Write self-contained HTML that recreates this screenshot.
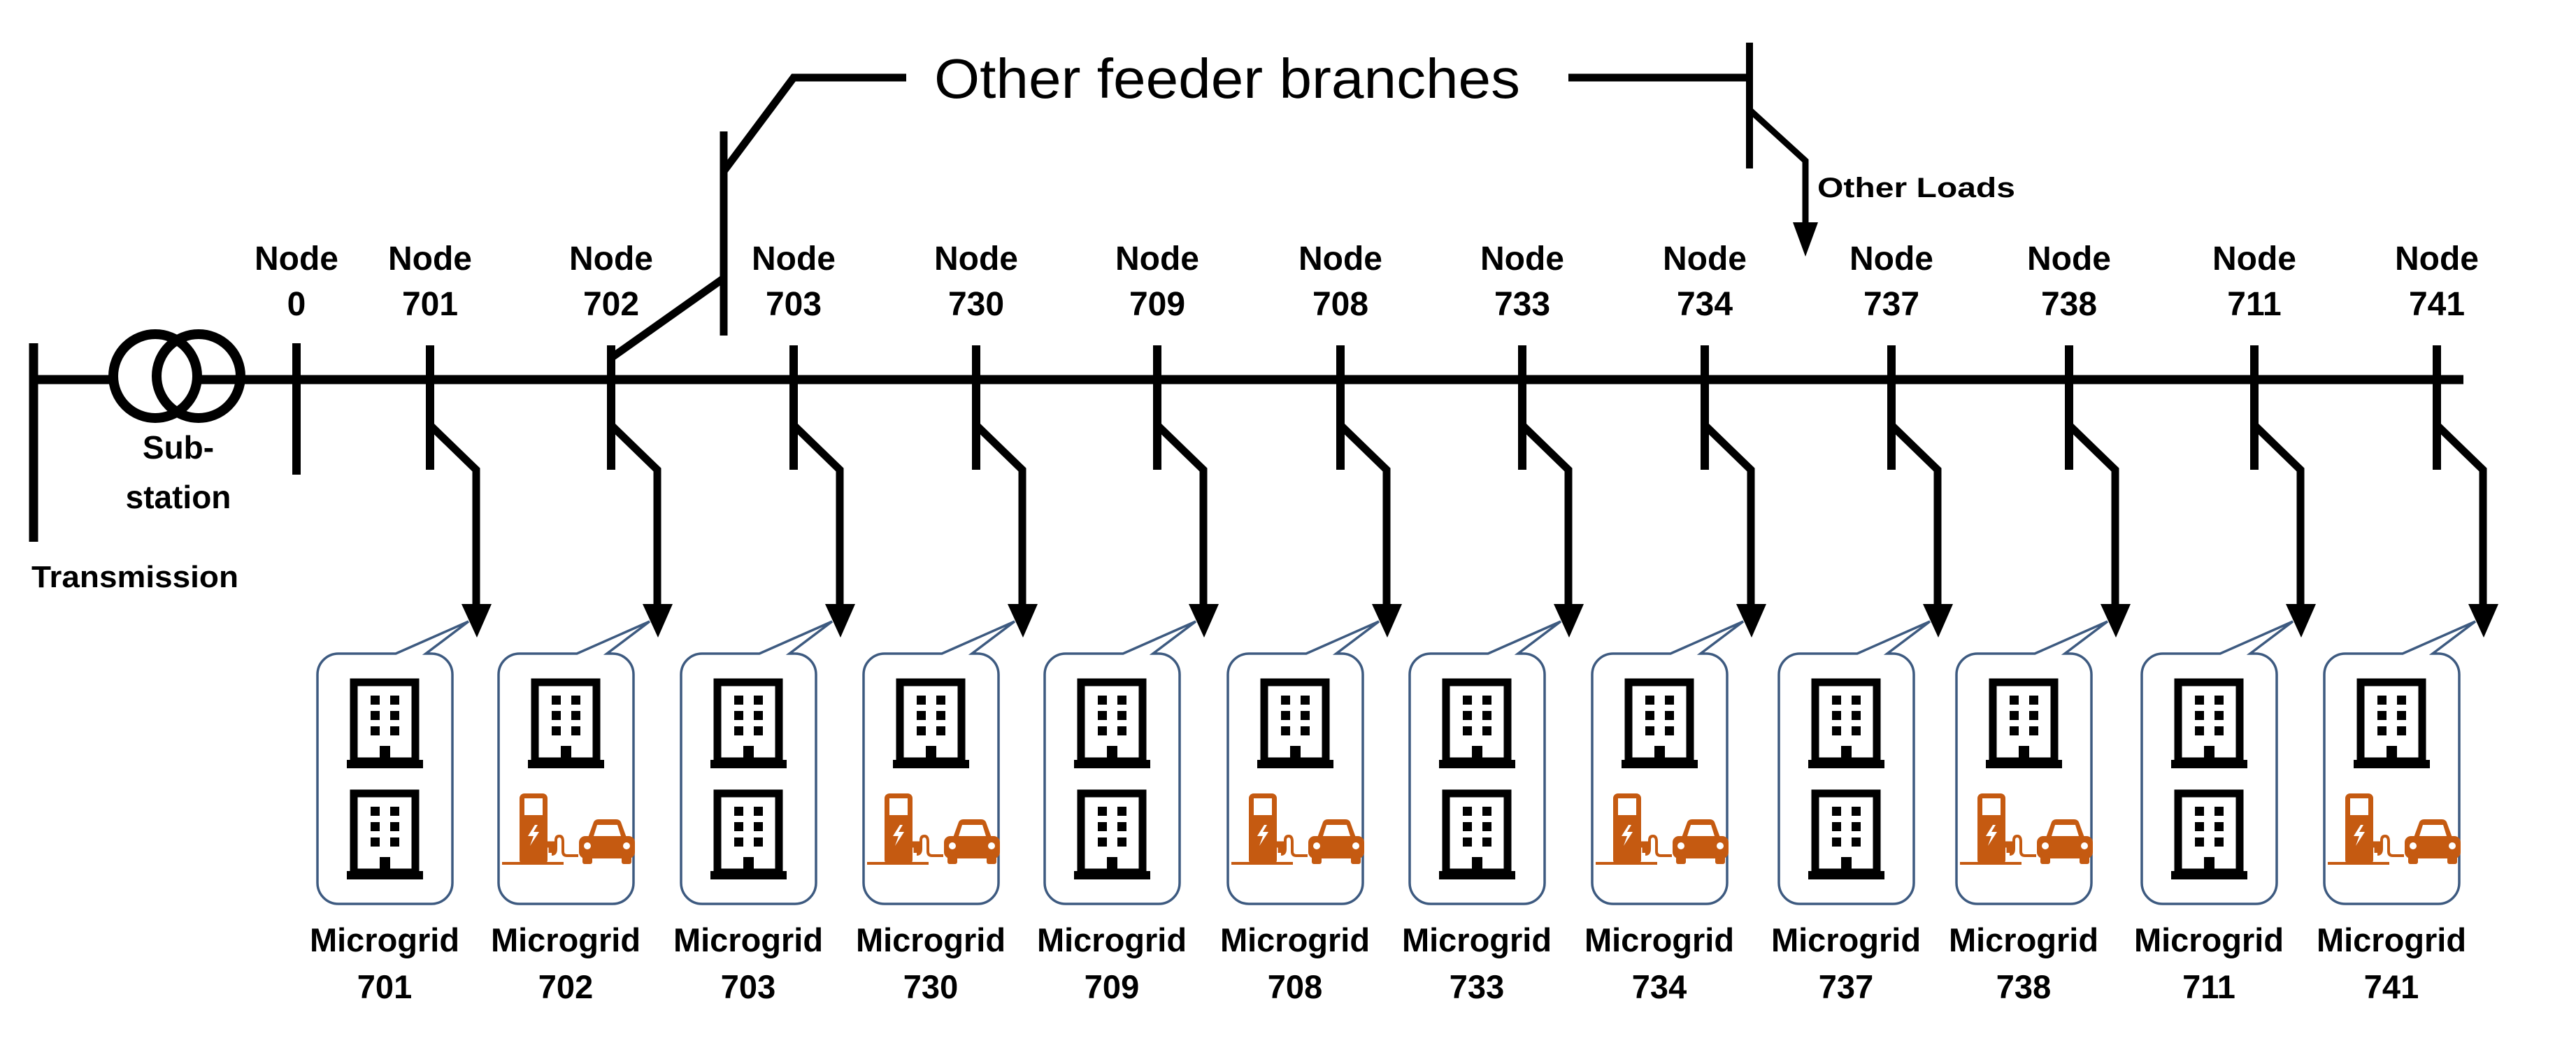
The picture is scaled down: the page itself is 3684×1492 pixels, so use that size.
<!DOCTYPE html>
<html><head><meta charset="utf-8"><style>
html,body{margin:0;padding:0;background:#fff}
svg{display:block}
text{font-family:"Liberation Sans",sans-serif;fill:#000}
.b{font-weight:bold}
.nl{font-size:48px;font-weight:bold;text-anchor:middle}
.ml{font-size:47px;font-weight:bold;text-anchor:middle}
</style></head><body>
<svg width="3684" height="1492" viewBox="0 0 3684 1492" xmlns="http://www.w3.org/2000/svg">
<defs>
<g id="bld">
<rect x="10" y="5" width="88" height="113" fill="none" stroke="#000" stroke-width="11"/>
<rect x="0" y="116" width="109" height="12" fill="#000"/>
<rect x="34" y="24" width="13" height="13"/><rect x="62" y="24" width="13" height="13"/>
<rect x="34" y="46" width="13" height="13"/><rect x="62" y="46" width="13" height="13"/>
<rect x="34" y="68" width="13" height="13"/><rect x="62" y="68" width="13" height="13"/>
<rect x="47" y="96" width="15" height="22"/>
</g>
<g id="ev" fill="#c55a11">
<rect x="5" y="103" width="88" height="4"/>
<rect x="30" y="5" width="40" height="102" rx="7"/>
<rect x="37" y="12" width="26" height="24" fill="#fff"/>
<polygon points="52,50 42,66 50,66 45,80 58,60 50,60 56,50" fill="#fff"/>
<path d="M66 78 h10 v12" stroke="#c55a11" stroke-width="9" fill="none"/>
<path d="M76 92 q6 0 6 -8 v-12 q0 -6 5 -6 q5 0 5 8 v14 q0 6 6 6 h16" stroke="#c55a11" stroke-width="4" fill="none"/>
<path d="M128 68 L136 46 Q138 42 143 42 H168 Q173 42 175 46 L183 68 Z"/>
<path d="M136 66 L141 50 H170 L175 66 Z" fill="#fff"/>
<rect x="115" y="66" width="80" height="32" rx="9"/>
<circle cx="127" cy="80" r="5" fill="#fff"/><circle cx="183" cy="80" r="5" fill="#fff"/>
<rect x="120" y="92" width="14" height="14" rx="3"/><rect x="176" y="92" width="14" height="14" rx="3"/>
</g>
<path id="box" d="M30 0 H112 L216 -46 L155 0 H163 A30 30 0 0 1 193 30 V328 A30 30 0 0 1 163 358 H30 A30 30 0 0 1 0 328 V30 A30 30 0 0 1 30 0 Z" fill="#fff" stroke="#3d5a80" stroke-width="3.5" stroke-linejoin="miter"/>
<g id="sw">
<line x1="0" y1="494" x2="0" y2="672" stroke="#000" stroke-width="12"/>
<polyline points="0,608 66,672 66,868" fill="none" stroke="#000" stroke-width="11"/>
<polygon points="45,864 88,864 67,912"/>
</g>
</defs>

<!-- main line -->
<line x1="48" y1="543" x2="3523" y2="543" stroke="#000" stroke-width="13"/>
<line x1="48" y1="491" x2="48" y2="775" stroke="#000" stroke-width="13"/>
<circle cx="222" cy="538" r="60" fill="#fff" stroke="#000" stroke-width="14"/>
<circle cx="284" cy="538" r="60" fill="none" stroke="#000" stroke-width="14"/>
<line x1="424" y1="491" x2="424" y2="679" stroke="#000" stroke-width="12"/>
<text class="b" x="255" y="656" font-size="46" text-anchor="middle">Sub-</text>
<text class="b" x="255" y="727" font-size="46" text-anchor="middle">station</text>
<text class="b" x="45" y="840" font-size="44" textLength="296" lengthAdjust="spacingAndGlyphs">Transmission</text>
<text class="nl" x="424" y="386">Node</text><text class="nl" x="424" y="451">0</text>

<!-- feeder branch -->
<polyline points="874,512 1035,398" fill="none" stroke="#000" stroke-width="11"/>
<line x1="1035" y1="188" x2="1035" y2="480" stroke="#000" stroke-width="11"/>
<polyline points="1035,245 1135,111 1296,111" fill="none" stroke="#000" stroke-width="11"/>
<text x="1336" y="140" font-size="80" textLength="838" lengthAdjust="spacingAndGlyphs">Other feeder branches</text>
<line x1="2243" y1="111" x2="2502" y2="111" stroke="#000" stroke-width="11"/>
<line x1="2502" y1="61" x2="2502" y2="241" stroke="#000" stroke-width="10"/>
<polyline points="2502,157 2582,230 2582,320" fill="none" stroke="#000" stroke-width="9"/>
<polygon points="2564,318 2600,318 2582,367"/>
<text class="b" x="2599" y="282" font-size="40" textLength="283" lengthAdjust="spacingAndGlyphs">Other Loads</text>

<!-- nodes -->
<g transform="translate(615,0)"><use href="#sw"/><text class="nl" x="0" y="386">Node</text><text class="nl" x="0" y="451">701</text>
<g transform="translate(-161,935)"><use href="#box"/><use href="#bld" x="42" y="36"/><use href="#bld" x="42" y="195"/></g>
<text class="ml" x="-65" y="1361">Microgrid</text><text class="ml" x="-65" y="1428">701</text></g>

<g transform="translate(874,0)"><use href="#sw"/><text class="nl" x="0" y="386">Node</text><text class="nl" x="0" y="451">702</text>
<g transform="translate(-161,935)"><use href="#box"/><use href="#bld" x="42" y="36"/><use href="#ev" x="0" y="195"/></g>
<text class="ml" x="-65" y="1361">Microgrid</text><text class="ml" x="-65" y="1428">702</text></g>

<g transform="translate(1135,0)"><use href="#sw"/><text class="nl" x="0" y="386">Node</text><text class="nl" x="0" y="451">703</text>
<g transform="translate(-161,935)"><use href="#box"/><use href="#bld" x="42" y="36"/><use href="#bld" x="42" y="195"/></g>
<text class="ml" x="-65" y="1361">Microgrid</text><text class="ml" x="-65" y="1428">703</text></g>

<g transform="translate(1396,0)"><use href="#sw"/><text class="nl" x="0" y="386">Node</text><text class="nl" x="0" y="451">730</text>
<g transform="translate(-161,935)"><use href="#box"/><use href="#bld" x="42" y="36"/><use href="#ev" x="0" y="195"/></g>
<text class="ml" x="-65" y="1361">Microgrid</text><text class="ml" x="-65" y="1428">730</text></g>

<g transform="translate(1655,0)"><use href="#sw"/><text class="nl" x="0" y="386">Node</text><text class="nl" x="0" y="451">709</text>
<g transform="translate(-161,935)"><use href="#box"/><use href="#bld" x="42" y="36"/><use href="#bld" x="42" y="195"/></g>
<text class="ml" x="-65" y="1361">Microgrid</text><text class="ml" x="-65" y="1428">709</text></g>

<g transform="translate(1917,0)"><use href="#sw"/><text class="nl" x="0" y="386">Node</text><text class="nl" x="0" y="451">708</text>
<g transform="translate(-161,935)"><use href="#box"/><use href="#bld" x="42" y="36"/><use href="#ev" x="0" y="195"/></g>
<text class="ml" x="-65" y="1361">Microgrid</text><text class="ml" x="-65" y="1428">708</text></g>

<g transform="translate(2177,0)"><use href="#sw"/><text class="nl" x="0" y="386">Node</text><text class="nl" x="0" y="451">733</text>
<g transform="translate(-161,935)"><use href="#box"/><use href="#bld" x="42" y="36"/><use href="#bld" x="42" y="195"/></g>
<text class="ml" x="-65" y="1361">Microgrid</text><text class="ml" x="-65" y="1428">733</text></g>

<g transform="translate(2438,0)"><use href="#sw"/><text class="nl" x="0" y="386">Node</text><text class="nl" x="0" y="451">734</text>
<g transform="translate(-161,935)"><use href="#box"/><use href="#bld" x="42" y="36"/><use href="#ev" x="0" y="195"/></g>
<text class="ml" x="-65" y="1361">Microgrid</text><text class="ml" x="-65" y="1428">734</text></g>

<g transform="translate(2705,0)"><use href="#sw"/><text class="nl" x="0" y="386">Node</text><text class="nl" x="0" y="451">737</text>
<g transform="translate(-161,935)"><use href="#box"/><use href="#bld" x="42" y="36"/><use href="#bld" x="42" y="195"/></g>
<text class="ml" x="-65" y="1361">Microgrid</text><text class="ml" x="-65" y="1428">737</text></g>

<g transform="translate(2959,0)"><use href="#sw"/><text class="nl" x="0" y="386">Node</text><text class="nl" x="0" y="451">738</text>
<g transform="translate(-161,935)"><use href="#box"/><use href="#bld" x="42" y="36"/><use href="#ev" x="0" y="195"/></g>
<text class="ml" x="-65" y="1361">Microgrid</text><text class="ml" x="-65" y="1428">738</text></g>

<g transform="translate(3224,0)"><use href="#sw"/><text class="nl" x="0" y="386">Node</text><text class="nl" x="0" y="451">711</text>
<g transform="translate(-161,935)"><use href="#box"/><use href="#bld" x="42" y="36"/><use href="#bld" x="42" y="195"/></g>
<text class="ml" x="-65" y="1361">Microgrid</text><text class="ml" x="-65" y="1428">711</text></g>

<g transform="translate(3485,0)"><use href="#sw"/><text class="nl" x="0" y="386">Node</text><text class="nl" x="0" y="451">741</text>
<g transform="translate(-161,935)"><use href="#box"/><use href="#bld" x="42" y="36"/><use href="#ev" x="0" y="195"/></g>
<text class="ml" x="-65" y="1361">Microgrid</text><text class="ml" x="-65" y="1428">741</text></g>
</svg>
</body></html>
